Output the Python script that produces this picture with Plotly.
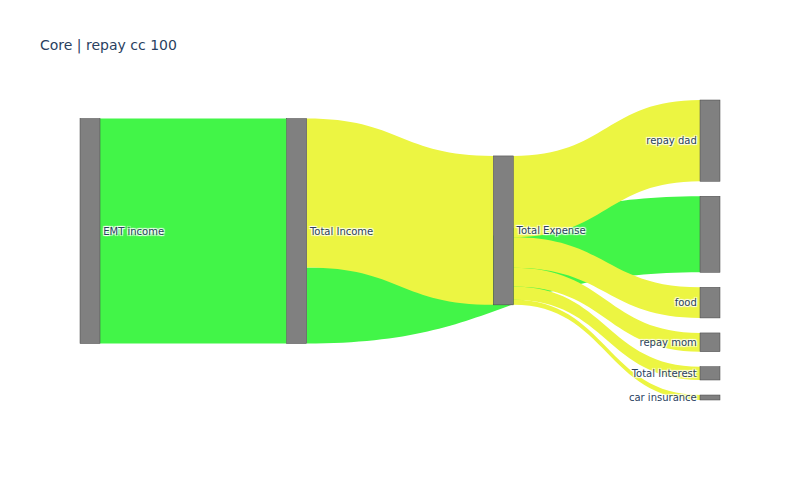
import plotly.graph_objects as go

node_labels = ["EMT income", "Total Income", "Total Expense", "repay dad", "",
               "food", "repay mom", "Total Interest", "car insurance"]
link_sources = ["EMT income", "Total Income", "Total Income", "Total Expense",
                "Total Expense", "Total Expense", "Total Expense", "Total Expense"]
link_targets = ["Total Income", "", "Total Expense", "repay dad",
                "food", "repay mom", "Total Interest", "car insurance"]
link_values = [3600, 1217, 2383, 1300, 490, 300, 213, 80]
link_colors = ["#42f548", "#42f548", "#ecf542", "#ecf542",
               "#ecf542", "#ecf542", "#ecf542", "#ecf542"]

idx = {lab: i for i, lab in enumerate(node_labels)}

fig = go.Figure(go.Sankey(
    node=dict(
        label=node_labels,
        color="grey",
        pad=15,
        thickness=20,
    ),
    link=dict(
        source=[idx[s] for s in link_sources],
        target=[idx[t] for t in link_targets],
        value=link_values,
        color=link_colors,
    ),
))

fig.update_layout(
    title=dict(text="Core | repay cc 100"),
    font=dict(family="DejaVu Sans", size=10),
    width=800,
    height=480,
)

fig.write_html("out.html")
